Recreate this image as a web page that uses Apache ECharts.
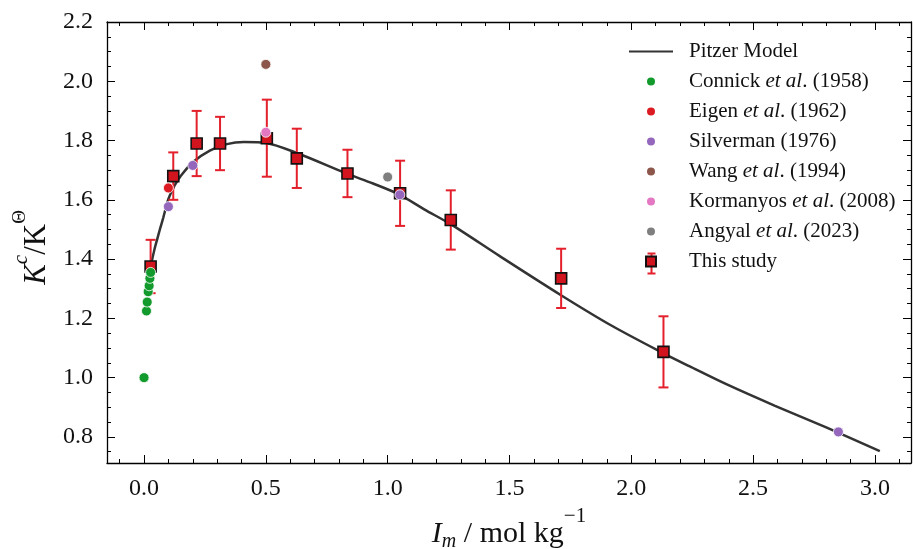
<!DOCTYPE html>
<html>
<head>
<meta charset="utf-8">
<script src="https://cdn.jsdelivr.net/npm/echarts@6/dist/echarts.min.js"></script>
<style>
  html, body { margin: 0; padding: 0; background: #ffffff; }
  #chart { width: 913px; height: 549px; }
</style>
</head>
<body>
<div id="chart"></div>
<script>
// Ionic strength I_m (mol/kg) and conditional constant ratio K^c/K^Θ

// Pitzer model curve
const pitzerI = [0.027, 0.035, 0.045, 0.055, 0.065, 0.079, 0.10, 0.125, 0.15, 0.20, 0.27, 0.34, 0.41, 0.50, 0.63, 0.83, 0.94, 1.05, 1.15, 1.26, 1.46, 1.71, 1.92, 2.13, 2.24, 2.39, 2.59, 2.80, 3.02];
const pitzerK = [1.375, 1.405, 1.44, 1.47, 1.50, 1.54, 1.603, 1.648, 1.68, 1.727, 1.766, 1.788, 1.795, 1.792, 1.757, 1.689, 1.655, 1.617, 1.568, 1.517, 1.41, 1.279, 1.175, 1.083, 1.038, 0.978, 0.905, 0.832, 0.752];

// Literature data
const connickI = [0.000, 0.010, 0.013, 0.017, 0.021, 0.024, 0.027];
const connickK = [1.00, 1.225, 1.255, 1.29, 1.31, 1.335, 1.355];
const eigenI = [0.10];
const eigenK = [1.64];
const silvermanI = [0.10, 0.20, 1.05, 2.85];
const silvermanK = [1.577, 1.716, 1.617, 0.817];
const wangI = [0.50];
const wangK = [2.057];
const kormanyosI = [0.50];
const kormanyosK = [1.828];
const angyalI = [1.00];
const angyalK = [1.677];

// This study: values with symmetric uncertainties
const studyI = [0.027, 0.12, 0.216, 0.312, 0.504, 0.627, 0.835, 1.051, 1.259, 1.712, 2.132];
const studyK = [1.375, 1.68, 1.79, 1.79, 1.808, 1.74, 1.689, 1.622, 1.532, 1.335, 1.087];
const studyErr = [0.09, 0.08, 0.11, 0.09, 0.13, 0.10, 0.08, 0.11, 0.10, 0.10, 0.12];

// Axis ticks
const xMajorTicks = [0.0, 0.5, 1.0, 1.5, 2.0, 2.5, 3.0];
const xMinorTicks = [-0.1, 0.1, 0.2, 0.3, 0.4, 0.6, 0.7, 0.8, 0.9, 1.1, 1.2, 1.3, 1.4, 1.6, 1.7, 1.8, 1.9, 2.1, 2.2, 2.3, 2.4, 2.6, 2.7, 2.8, 2.9, 3.1];
const yMajorTicks = [0.8, 1.0, 1.2, 1.4, 1.6, 1.8, 2.0, 2.2];
const yMinorTicks = [0.75, 0.85, 0.9, 0.95, 1.05, 1.1, 1.15, 1.25, 1.3, 1.35, 1.45, 1.5, 1.55, 1.65, 1.7, 1.75, 1.85, 1.9, 1.95, 2.05, 2.1, 2.15];

const X_MIN = -0.152, X_MAX = 3.148;
const Y_MIN = 0.712, Y_MAX = 2.2;

const SERIF = "'Liberation Serif', 'Times New Roman', serif";
const INK = '#111111';
const STUDY_FILL = '#d2141e';
const BAR_RED = '#e3202b';

const zip = (a, b) => a.map((v, i) => [v, b[i]]);

function makeAxis(kind, position, ticks, len, withLabels, showLine) {
  const ax = {
    type: 'value', position: position,
    min: kind === 'x' ? X_MIN : Y_MIN,
    max: kind === 'x' ? X_MAX : Y_MAX,
    axisLine: { show: showLine, onZero: false, lineStyle: { color: '#000', width: 1.3 } },
    axisTick: { show: true, inside: true, length: len, customValues: ticks, lineStyle: { color: '#000', width: 1 } },
    axisLabel: { show: false },
    splitLine: { show: false }
  };
  if (withLabels) {
    ax.axisLabel = {
      show: true, customValues: ticks, margin: 14,
      fontFamily: SERIF, fontSize: 24, color: INK,
      formatter: v => v.toFixed(1)
    };
  }
  return ax;
}

const xAxes = [
  makeAxis('x', 'bottom', xMajorTicks, 8, true, true),
  makeAxis('x', 'bottom', xMinorTicks, 4, false, false),
  makeAxis('x', 'top', xMajorTicks, 8, false, true),
  makeAxis('x', 'top', xMinorTicks, 4, false, false)
];
Object.assign(xAxes[0], {
  name: '{i|I}{sub|m}{n| / mol kg}{sup|\u22121}',
  nameLocation: 'middle',
  nameGap: 43,
  nameTextStyle: {
    color: INK,
    rich: {
      i: { fontFamily: SERIF, fontSize: 30, fontStyle: 'italic', color: INK, lineHeight: 57 },
      sub: { fontFamily: SERIF, fontSize: 20, fontStyle: 'italic', color: INK, padding: [14, 0, 0, 0] },
      n: { fontFamily: SERIF, fontSize: 30, color: INK, lineHeight: 57 },
      sup: { fontFamily: SERIF, fontSize: 21, color: INK, lineHeight: 21, verticalAlign: 'top' }
    }
  }
});

const yAxes = [
  makeAxis('y', 'left', yMajorTicks, 8, true, true),
  makeAxis('y', 'left', yMinorTicks, 4, false, false),
  makeAxis('y', 'right', yMajorTicks, 8, false, true),
  makeAxis('y', 'right', yMinorTicks, 4, false, false)
];
Object.assign(yAxes[0], {
  name: '{i|K}{sup|c}{n|/K}{sup2|\u0398}',
  nameLocation: 'middle',
  nameGap: 42,
  nameRotate: 90,
  nameTextStyle: {
    color: INK,
    padding: [0, 10, 0, 0],
    rich: {
      i: { fontFamily: SERIF, fontSize: 31, fontStyle: 'italic', color: INK, lineHeight: 52 },
      n: { fontFamily: SERIF, fontSize: 31, color: INK, lineHeight: 52 },
      sup: { fontFamily: SERIF, fontSize: 21, fontStyle: 'italic', color: INK, lineHeight: 21, verticalAlign: 'top' },
      sup2: { fontFamily: SERIF, fontSize: 19, color: INK, lineHeight: 21, verticalAlign: 'top' }
    }
  }
});

function dotSeries(name, xs, ys, color) {
  return {
    name: name, type: 'scatter', xAxisIndex: 0, yAxisIndex: 0,
    data: zip(xs, ys), symbol: 'circle', symbolSize: 10, z: 6,
    itemStyle: { color: color, borderColor: '#ffffff', borderWidth: 0.8, opacity: 1 },
    emphasis: { disabled: true }
  };
}

const chart = echarts.init(document.getElementById('chart'), null, { renderer: 'canvas' });

const option = {
  backgroundColor: '#ffffff',
  animation: false,
  grid: { left: 107, right: 2, top: 22, bottom: 86, containLabel: false, outerBoundsMode: 'none' },
  xAxis: xAxes,
  yAxis: yAxes,
  legend: {
    orient: 'vertical',
    left: 628, top: 41,
    padding: 0,
    itemWidth: 44, itemHeight: 10, itemGap: 9,
    selectedMode: false,
    formatter: name => name.replace('et al.', '{i|et al}.'),
    textStyle: {
      fontFamily: SERIF, fontSize: 21, color: INK, lineHeight: 21,
      padding: [0, 0, 0, 11],
      rich: { i: { fontFamily: SERIF, fontSize: 21, fontStyle: 'italic', color: INK, lineHeight: 21 } }
    },
    data: [
      { name: 'Pitzer Model', itemStyle: { color: 'rgba(0,0,0,0)', borderWidth: 0, opacity: 0 } },
      { name: 'Connick et al. (1958)' },
      { name: 'Eigen et al. (1962)' },
      { name: 'Silverman (1976)' },
      { name: 'Wang et al. (1994)' },
      { name: 'Kormanyos et al. (2008)' },
      { name: 'Angyal et al. (2023)' },
      { name: 'This study', icon: 'path://M0,0L10,0L10,10L0,10Z' }
    ]
  },
  graphic: [
    // error bar behind the "This study" legend marker
    {
      type: 'group', left: 645, top: 251, z: 1,
      children: [
        { type: 'line', shape: { x1: 5, y1: 0, x2: 5, y2: 20 }, style: { stroke: BAR_RED, lineWidth: 2 } },
        { type: 'line', shape: { x1: 1, y1: 0, x2: 9, y2: 0 }, style: { stroke: BAR_RED, lineWidth: 2 } },
        { type: 'line', shape: { x1: 1, y1: 20, x2: 9, y2: 20 }, style: { stroke: BAR_RED, lineWidth: 2 } }
      ]
    }
  ],
  series: [
    {
      name: 'Pitzer Model', type: 'line', xAxisIndex: 0, yAxisIndex: 0,
      data: zip(pitzerI, pitzerK), showSymbol: false, symbol: 'none', smooth: 0.3,
      lineStyle: { color: '#333333', width: 2.5 }, itemStyle: { color: '#333333' }, z: 2
    },
    {
      name: 'study-error', type: 'custom', xAxisIndex: 0, yAxisIndex: 0, z: 3,
      data: studyI.map((x, i) => [x, studyK[i] - studyErr[i], studyK[i] + studyErr[i]]),
      encode: { x: 0, y: [1, 2] },
      renderItem: (params, api) => {
        const x = api.value(0);
        const lo = api.coord([x, api.value(1)]);
        const hi = api.coord([x, api.value(2)]);
        const cap = 5;
        const st = { stroke: BAR_RED, lineWidth: 2 };
        return {
          type: 'group',
          children: [
            { type: 'line', shape: { x1: lo[0], y1: lo[1], x2: hi[0], y2: hi[1] }, style: st },
            { type: 'line', shape: { x1: lo[0] - cap, y1: lo[1], x2: lo[0] + cap, y2: lo[1] }, style: st },
            { type: 'line', shape: { x1: hi[0] - cap, y1: hi[1], x2: hi[0] + cap, y2: hi[1] }, style: st }
          ]
        };
      }
    },
    {
      name: 'This study', type: 'scatter', xAxisIndex: 0, yAxisIndex: 0,
      data: zip(studyI, studyK), symbol: 'rect', symbolSize: 11, z: 4,
      itemStyle: { color: STUDY_FILL, borderColor: '#111111', borderWidth: 1.6, opacity: 1 },
      emphasis: { disabled: true }
    },
    dotSeries('Connick et al. (1958)', connickI, connickK, '#129a2c'),
    dotSeries('Eigen et al. (1962)', eigenI, eigenK, '#dc1a22'),
    dotSeries('Silverman (1976)', silvermanI, silvermanK, '#9467bd'),
    dotSeries('Wang et al. (1994)', wangI, wangK, '#8c564b'),
    dotSeries('Kormanyos et al. (2008)', kormanyosI, kormanyosK, '#e377c2'),
    dotSeries('Angyal et al. (2023)', angyalI, angyalK, '#7f7f7f')
  ]
};

chart.setOption(option);
</script>
</body>
</html>
